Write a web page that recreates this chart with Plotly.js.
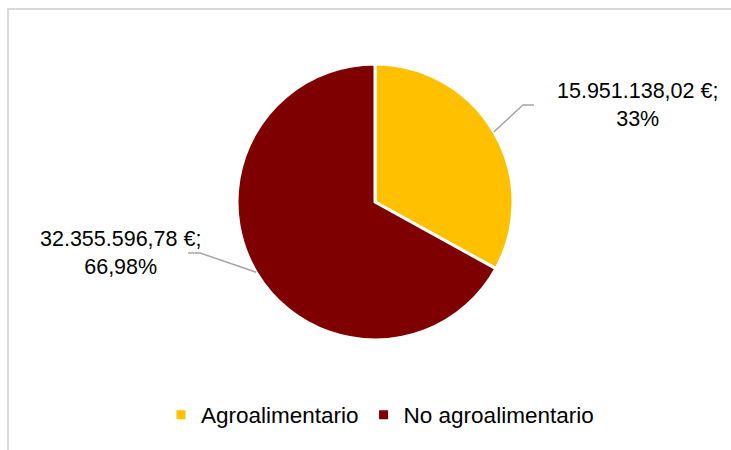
<!DOCTYPE html>
<html>
<head>
<meta charset="utf-8">
<script src="https://cdn.plot.ly/plotly-3.0.1.min.js"></script>
<style>html,body{margin:0;padding:0;background:#fff;}#chart{width:731px;height:450px;}</style>
</head>
<body>
<div id="chart"></div>
<script>
// Data
var categories = ["Agroalimentario", "No agroalimentario"];
var amounts = [15951138.02, 32355596.78];
var amountLabels = ["15.951.138,02 €;", "32.355.596,78 €;"];
var percentLabels = ["33%", "66,98%"];
var colors = ["#FFC000", "#7F0000"];

var W = 731, H = 450;
function px(x) { return x / W; }
function py(y) { return 1 - y / H; }

// pie geometry (pixels)
var cx = 375, cy = 202, R = 138;
// label positions (pixels) and leader elbow points
var labelPos = [[637, 105], [120, 253]];
var elbows = [[[523, 105], [534, 105]], [[200, 253], [188, 253]]];

var total = amounts.reduce(function (a, b) { return a + b; }, 0);
var shapes = [{
  type: "rect", xref: "paper", yref: "paper",
  x0: px(8), x1: 1.2, y0: -0.2, y1: py(9),
  line: { color: "#D9D9D9", width: 2 }, fillcolor: "rgba(0,0,0,0)", layer: "below"
}];
var annotations = [];
var cum = 0;
for (var i = 0; i < amounts.length; i++) {
  var frac = amounts[i] / total;
  var mid = (cum + frac / 2) * 2 * Math.PI;
  cum += frac;
  var sx = cx + R * Math.sin(mid), sy = cy - R * Math.cos(mid);
  var e1 = elbows[i][0], e2 = elbows[i][1];
  shapes.push({
    type: "path", xref: "paper", yref: "paper",
    path: "M " + px(sx) + "," + py(sy) + " L " + px(e1[0]) + "," + py(e1[1]) + " L " + px(e2[0]) + "," + py(e2[1]),
    line: { color: "#A6A6A6", width: 1.5 }
  });
  annotations.push({
    xref: "paper", yref: "paper", x: px(labelPos[i][0]), y: py(labelPos[i][1]),
    xanchor: "center", yanchor: "middle", showarrow: false, align: "center",
    text: amountLabels[i] + "<br>" + percentLabels[i],
    font: { family: "Liberation Sans, Arial, sans-serif", size: 21.5, color: "#000" }
  });
}

var trace = {
  type: "pie",
  labels: categories,
  values: amounts,
  sort: false,
  direction: "clockwise",
  rotation: 0,
  textinfo: "none",
  hoverinfo: "none",
  marker: { colors: colors, line: { color: "#FFFFFF", width: 3 } },
  domain: { x: [px(cx - R), px(cx + R)], y: [py(cy + R), py(cy - R)] }
};

var layout = {
  width: W, height: H,
  margin: { l: 0, r: 0, t: 0, b: 0 },
  paper_bgcolor: "#FFFFFF",
  showlegend: true,
  legend: {
    orientation: "h", x: px(380), xanchor: "center", y: py(415), yanchor: "middle",
    font: { family: "Liberation Sans, Arial, sans-serif", size: 22.5, color: "#000" },
    itemwidth: 30
  },
  shapes: shapes,
  annotations: annotations
};

Plotly.newPlot("chart", [trace], layout, { displayModeBar: false, staticPlot: true });
</script>
</body>
</html>
